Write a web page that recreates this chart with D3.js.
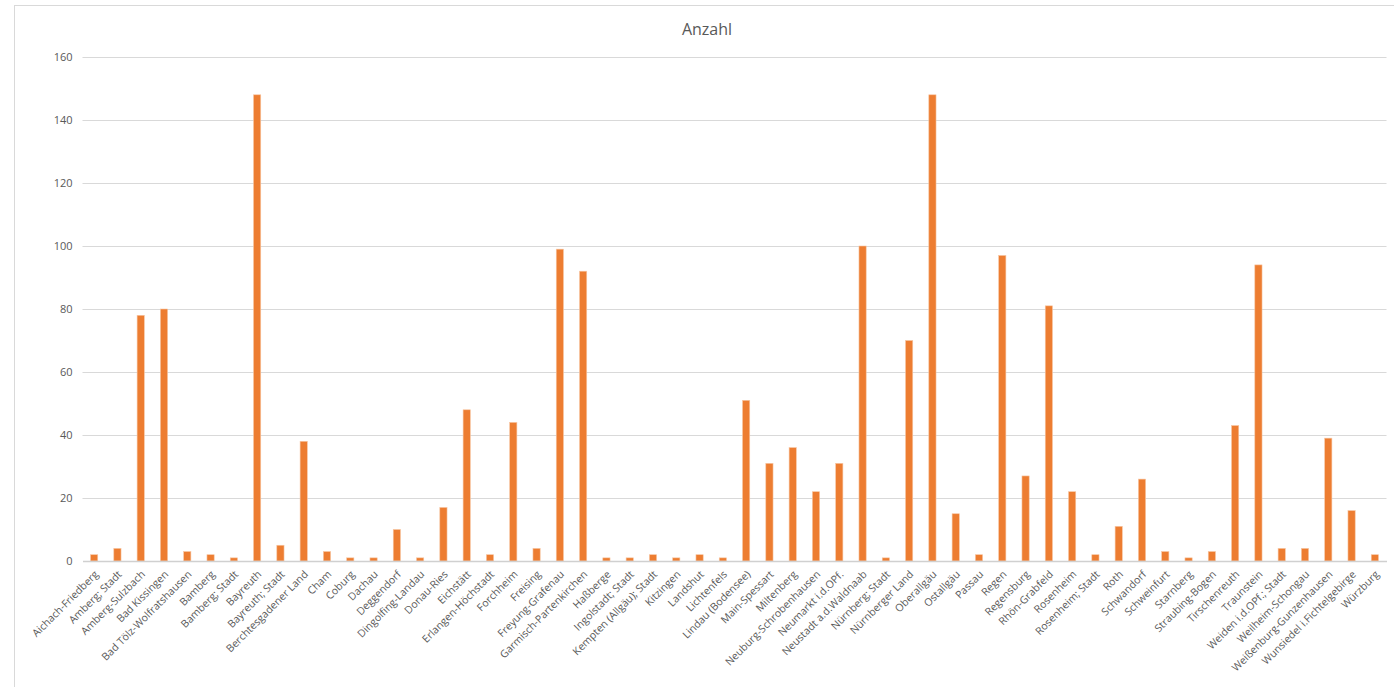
<!DOCTYPE html>
<html>
<head>
<meta charset="utf-8">
<script src="https://cdn.jsdelivr.net/npm/d3@7"></script>
<style>
  body { margin: 0; background: #fff; }
  text { font-family: "Open Sans", sans-serif; fill: #595959; }
</style>
</head>
<body>
<div id="chart"></div>
<script>
const kreise = [
  "Aichach-Friedberg", "Amberg; Stadt", "Amberg-Sulzbach", "Bad Kissingen",
  "Bad Tölz-Wolfratshausen", "Bamberg", "Bamberg; Stadt", "Bayreuth",
  "Bayreuth; Stadt", "Berchtesgadener Land", "Cham", "Coburg", "Dachau",
  "Deggendorf", "Dingolfing-Landau", "Donau-Ries", "Eichstätt",
  "Erlangen-Höchstadt", "Forchheim", "Freising", "Freyung-Grafenau",
  "Garmisch-Partenkirchen", "Haßberge", "Ingolstadt; Stadt",
  "Kempten (Allgäu); Stadt", "Kitzingen", "Landshut", "Lichtenfels",
  "Lindau (Bodensee)", "Main-Spessart", "Miltenberg", "Neuburg-Schrobenhausen",
  "Neumarkt i.d.OPf.", "Neustadt a.d.Waldnaab", "Nürnberg; Stadt",
  "Nürnberger Land", "Oberallgäu", "Ostallgäu", "Passau", "Regen",
  "Regensburg", "Rhön-Grabfeld", "Rosenheim", "Rosenheim; Stadt", "Roth",
  "Schwandorf", "Schweinfurt", "Starnberg", "Straubing-Bogen", "Tirschenreuth",
  "Traunstein", "Weiden i.d.OPf.; Stadt", "Weilheim-Schongau",
  "Weißenburg-Gunzenhausen", "Wunsiedel i.Fichtelgebirge", "Würzburg"
];
const anzahl = [
  2, 4, 78, 80, 3, 2, 1, 148, 5, 38, 3, 1, 1, 10, 1, 17, 48, 2, 44, 4, 99, 92,
  1, 1, 2, 1, 2, 1, 51, 31, 36, 22, 31, 100, 1, 70, 148, 15, 2, 97, 27, 81, 22,
  2, 11, 26, 3, 1, 3, 43, 94, 4, 4, 39, 16, 2
];
const yTicks = [0, 20, 40, 60, 80, 100, 120, 140, 160];

const width = 1394, height = 687;
const margin = { top: 57, right: 7.5, bottom: 126, left: 82.5 };

const svg = d3.select("#chart").append("svg")
  .attr("width", width)
  .attr("height", height);

// chart frame
svg.append("rect")
  .attr("x", 14.5).attr("y", 5.5)
  .attr("width", width).attr("height", height)
  .attr("fill", "none")
  .attr("stroke", "#d9d9d9");

svg.append("text")
  .attr("x", 707).attr("y", 35)
  .attr("text-anchor", "middle")
  .attr("font-size", 16)
  .text("Anzahl");

const x = d3.scaleBand()
  .domain(kreise)
  .range([margin.left, width - margin.right])
  .paddingInner(0.69)
  .paddingOuter(0.345);

const y = d3.scaleLinear()
  .domain([0, 160])
  .range([height - margin.bottom, margin.top]);

// gridlines
svg.append("g")
  .selectAll("line")
  .data(yTicks.filter(d => d > 0))
  .join("line")
  .attr("x1", margin.left).attr("x2", width - margin.right)
  .attr("y1", d => Math.round(y(d)) + 0.5).attr("y2", d => Math.round(y(d)) + 0.5)
  .attr("stroke", "#d9d9d9");

// y axis labels
const yAxis = svg.append("g")
  .attr("transform", "translate(" + (margin.left - 10) + ",0)")
  .call(d3.axisLeft(y).tickValues(yTicks).tickSize(0).tickPadding(0));
yAxis.select(".domain").remove();
yAxis.selectAll("text")
  .attr("font-size", 11)
  .attr("font-family", "'Open Sans', sans-serif")
  .attr("fill", "#595959");

// bars
svg.append("g")
  .selectAll("rect")
  .data(anzahl)
  .join("rect")
  .attr("x", (d, i) => x(kreise[i]))
  .attr("width", x.bandwidth())
  .attr("y", d => y(d))
  .attr("height", d => y(0) - y(d))
  .attr("fill", "#ed7d31")
  .attr("stroke", "#f7c6a3")
  .attr("stroke-width", 0.6);

// x axis
const xAxis = svg.append("g")
  .attr("transform", "translate(0," + y(0) + ")")
  .call(d3.axisBottom(x).tickSize(0).tickPadding(0));
xAxis.select(".domain")
  .attr("stroke", "#d0d0d0")
  .attr("stroke-width", 1.5);
xAxis.selectAll("text")
  .attr("font-size", 10.5)
  .attr("font-family", "'Open Sans', sans-serif")
  .attr("fill", "#595959")
  .attr("text-anchor", "end")
  .attr("dy", null)
  .attr("y", 0)
  .attr("transform", "translate(5,14) rotate(-45)");
</script>
</body>
</html>
